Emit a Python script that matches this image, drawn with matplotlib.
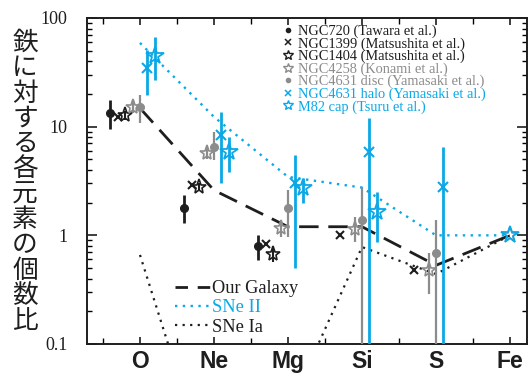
import matplotlib
matplotlib.use("Agg")
import matplotlib.pyplot as plt
from matplotlib.lines import Line2D
import numpy as np

# ---------------- data ----------------
elements = ["O", "Ne", "Mg", "Si", "S", "Fe"]

# model lines (ratio to Fe)
our_galaxy = [14.8, 2.6, 1.2, 1.2, 0.53, 1.0]
sne_ii = [59.0, 12.3, 3.45, 2.75, 1.0, 1.0]
sne_ia = [0.66, 0.0046, 0.024, 0.78, 0.44, 1.0]

# observations: element index, value, lower, upper
ngc720_el = [0, 1, 2]
ngc720_val = [13.5, 1.8, 0.80]
ngc720_lo = [9.6, 1.29, 0.59]
ngc720_hi = [17.6, 2.35, 1.0]

ngc1399_el = [0, 1, 2, 3, 4]
ngc1399_val = [12.3, 2.9, 0.84, 1.0, 0.48]

ngc1404_el = [0, 1, 2]
ngc1404_val = [12.8, 2.8, 0.68]
ngc1404_lo = [11.6, 2.6, 0.57]
ngc1404_hi = [14.0, 3.0, 0.79]

ngc4258_el = [0, 1, 2, 3, 4]
ngc4258_val = [15.2, 5.7, 1.16, 1.15, 0.48]
ngc4258_lo = [13.3, 5.0, 0.97, 0.87, 0.29]
ngc4258_hi = [17.6, 6.5, 1.38, 1.48, 0.69]

disc_el = [0, 1, 2, 3, 4]
disc_val = [15.2, 6.5, 1.77, 1.38, 0.69]
disc_lo = [10.8, 4.9, 0.97, 0.01, 0.01]
disc_hi = [19.6, 9.0, 2.6, 2.8, 1.38]

halo_el = [0, 1, 2, 3, 4]
halo_val = [34.4, 8.4, 3.0, 5.9, 2.8]
halo_lo = [19.5, 3.0, 0.5, 0.01, 0.01]
halo_hi = [50.7, 13.7, 5.5, 11.9, 6.5]

m82_el = [0, 1, 2, 3]
m82_val = [44.6, 5.9, 2.7, 1.65]
m82_lo = [26.8, 3.85, 1.97, 0.87]
m82_hi = [66.3, 8.1, 3.34, 2.52]

fe_ref = 1.0

legend_labels = ["NGC720 (Tawara et al.)", "NGC1399 (Matsushita et al.)",
                 "NGC1404 (Matsushita et al.)", "NGC4258 (Konami et al.)",
                 "NGC4631 disc (Yamasaki et al.)", "NGC4631 halo (Yamasaki et al.)",
                 "M82 cap (Tsuru et al.)"]
line_labels = ["Our Galaxy", "SNe II", "SNe Ia"]
ylabel_text = "鉄に対する各元素の個数比"

# ---------------- style ----------------
BLACK = "#1e1e1e"
GRAY = "#8c8c8c"
CYAN = "#0aa8e6"
SERIF = ["Liberation Serif", "DejaVu Serif"]

plt.rcParams["font.family"] = SERIF

fig = plt.figure(figsize=(5.28, 3.76), dpi=100)
ax = fig.add_axes([87 / 528, 1 - 344 / 376, 440 / 528, 326 / 376])
ax.set_yscale("log")
ax.set_ylim(0.1, 100)
ax.set_xlim(-0.716, 5.23)

x = np.arange(len(elements))

# model lines
ax.plot(x, our_galaxy, color=BLACK, lw=2.0, ls=(0, (7, 3.5)), zorder=2)
ax.plot(x, sne_ii, color=CYAN, lw=1.7, ls=(0, (1, 2.3)), zorder=2)
ax.plot(x, sne_ia, color=BLACK, lw=1.6, ls=(0, (1, 2.4)), zorder=2)


def series(el, val, lo, hi, off, color, marker, ms, mew, mfc, elw):
    xs = np.array(el, dtype=float) + off
    v = np.array(val)
    if lo is not None:
        yerr = [v - np.array(lo), np.array(hi) - v]
        ax.errorbar(xs, v, yerr=yerr, fmt="none", ecolor=color, elinewidth=elw,
                    capsize=0, zorder=3)
    ax.plot(xs, v, ls="none", marker=marker, ms=ms, mew=mew, mec=color,
            mfc=mfc, color=color, zorder=4)


series(ngc720_el, ngc720_val, ngc720_lo, ngc720_hi, -0.40, BLACK, "o", 5.5, 1, BLACK, 2.0)
series(ngc1399_el, ngc1399_val, None, None, -0.30, BLACK, "x", 6, 1.5, BLACK, 1.5)
series(ngc1404_el, ngc1404_val, ngc1404_lo, ngc1404_hi, -0.20, BLACK, "*", 11, 1.2, "none", 1.5)
series(ngc4258_el, ngc4258_val, ngc4258_lo, ngc4258_hi, -0.10, GRAY, "*", 11, 1.2, "none", 1.6)
series(disc_el, disc_val, disc_lo, disc_hi, 0.0, GRAY, "o", 5.5, 1, GRAY, 1.6)
series(halo_el, halo_val, halo_lo, halo_hi, 0.10, CYAN, "x", 7, 1.5, CYAN, 2.0)
series(m82_el, m82_val, m82_lo, m82_hi, 0.20, CYAN, "*", 13, 1.3, "none", 2.0)

# Fe reference point
ax.plot([5], [fe_ref], ls="none", marker="*", ms=11, mew=1.2, mec=GRAY, mfc="none", zorder=4)
ax.plot([5], [fe_ref], ls="none", marker="*", ms=13, mew=1.3, mec=CYAN, mfc="none", zorder=5)

# axes styling
for s in ax.spines.values():
    s.set_linewidth(1.4)
    s.set_color(BLACK)
ax.set_xticks(x)
ax.set_xticks(np.arange(-0.5, 5.5, 1.0), minor=True)
ax.set_xticklabels(elements, fontfamily=["Liberation Sans", "DejaVu Sans"],
                   fontweight="bold", fontsize=16.5, color=BLACK)
ax.set_yticks([0.1, 1, 10, 100])
ax.set_yticklabels(["0.1", "1", "10", "100"], fontsize=13, color=BLACK)
ax.tick_params(axis="x", which="major", direction="in", length=5, width=1.2,
               top=True, bottom=True, pad=4.3, colors=BLACK)
ax.tick_params(axis="x", which="minor", direction="in", length=4, width=1.0,
               top=True, bottom=True)
ax.tick_params(axis="y", which="major", direction="in", length=7, width=1.2,
               left=True, right=True, pad=14, colors=BLACK)
ax.tick_params(axis="y", which="minor", direction="in", length=3.5, width=1.0,
               left=True, right=True)
ax.tick_params(axis="y", which="minor", labelleft=False)

# marker legend
mk_handles = [
    Line2D([], [], ls="none", marker="o", ms=3, color=BLACK),
    Line2D([], [], ls="none", marker="x", ms=4, mew=1.1, color=BLACK),
    Line2D([], [], ls="none", marker="*", ms=7, mew=1.0, mec=BLACK, mfc="none"),
    Line2D([], [], ls="none", marker="*", ms=7, mew=1.0, mec=GRAY, mfc="none"),
    Line2D([], [], ls="none", marker="o", ms=3, color=GRAY),
    Line2D([], [], ls="none", marker="x", ms=4, mew=1.1, color=CYAN),
    Line2D([], [], ls="none", marker="*", ms=7, mew=1.0, mec=CYAN, mfc="none"),
]
leg1 = ax.legend(mk_handles, legend_labels, loc="upper left",
                 bbox_to_anchor=(0.43, 1.0), frameon=False, fontsize=10.4,
                 handlelength=0.7, handletextpad=0.35, labelspacing=-0.06,
                 borderaxespad=0.25, borderpad=0.2)
for t, c in zip(leg1.get_texts(), [BLACK, BLACK, BLACK, GRAY, GRAY, CYAN, CYAN]):
    t.set_color(c)
ax.add_artist(leg1)

ln_handles = [
    Line2D([], [], color=BLACK, lw=2.0, ls=(0, (4.5, 3.5))),
    Line2D([], [], color=CYAN, lw=1.7, ls=(0, (1, 2.3))),
    Line2D([], [], color=BLACK, lw=1.6, ls=(0, (1, 2.4))),
]
leg2 = ax.legend(ln_handles, line_labels, loc="lower left",
                 bbox_to_anchor=(0.175, -0.008), frameon=False, fontsize=13.2,
                 handlelength=1.9, handletextpad=0.1, labelspacing=0.12,
                 borderaxespad=0.2)
for t, c in zip(leg2.get_texts(), [BLACK, CYAN, BLACK]):
    t.set_color(c)

# vertical Japanese y label
chars = list(ylabel_text)
for i, ch in enumerate(chars):
    yc = 43 + i * 25.3
    fig.text(25 / 528, 1 - yc / 376, ch, ha="center", va="center", fontsize=18.5,
             family=["Noto Sans CJK JP", "DejaVu Sans"], color=BLACK)

fig.savefig("out.png", dpi=100, facecolor="white")
